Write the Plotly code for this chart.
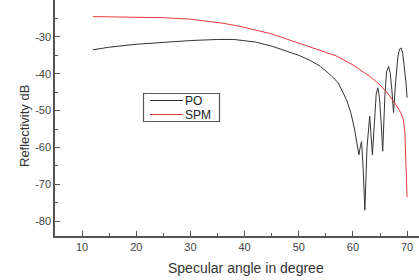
import plotly.graph_objects as go

# ---- data ----
angle_po = [12, 15, 20, 25, 30, 35, 38, 42, 45, 48, 50, 52, 54, 56, 57.3, 58.8,
            59.6, 60.3, 60.7, 61.1, 61.4, 61.6, 61.9, 62.2, 62.6, 63.1, 63.6,
            64.0, 64.3, 64.6, 64.9, 65.2, 65.5, 65.9, 66.2, 66.6, 66.9, 67.2, 67.5,
            67.9, 68.3, 68.6, 68.9, 69.2, 69.5, 69.8, 70.0]
po = [-33.5, -32.8, -32.0, -31.4, -31.0, -30.7, -30.7, -31.4, -32.5, -34.0, -35.0, -36.3,
      -38.0, -40.5, -42.5, -47.0, -50.5, -55.0, -58.6, -62.0, -59.5, -58.4, -66.0, -77.0,
      -60.0, -51.5, -62.0, -51.0, -45.5, -43.8, -46.5, -53.0, -61.0, -46.0, -39.5, -38.0,
      -40.0, -44.5, -50.5, -42.0, -35.5, -33.3, -33.0, -34.5, -38.0, -42.5, -46.5]

angle_spm = [12, 20, 25, 30, 33, 36, 39, 42, 45, 48, 51, 54, 57, 60, 63, 65, 66.5, 68,
             68.8, 69.3, 69.6, 69.8, 70.0]
spm = [-24.5, -24.6, -24.8, -25.2, -25.7, -26.3, -27.1, -28.1, -29.2, -30.7, -32.2,
       -33.6, -35.2, -37.6, -40.6, -43.0, -45.5, -48.5, -50.5, -52.4, -56.0, -65.0, -73.5]

series_names = ["PO", "SPM"]
series_colors = ["#333333", "#e83a3a"]

y_tickvals = [-30, -40, -50, -60, -70, -80]
y_ticktext = ["-30", "-40", "-50", "-60", "-70", "-80"]
x_tickvals = [10, 20, 30, 40, 50, 60, 70]

FONT = "Liberation Sans, Arial, sans-serif"
AXC = "#555555"

# plot area in pixels (for converting layout positions to paper coords)
L, R, T, B = 55, 419, 0, 236


def px(xp):
    return (xp - L) / (R - L)


def py(yp):
    return 1 - (yp - T) / (B - T)


fig = go.Figure()
for xs, ys, nm, col in [(angle_po, po, series_names[0], series_colors[0]),
                        (angle_spm, spm, series_names[1], series_colors[1])]:
    fig.add_trace(go.Scatter(x=xs, y=ys, mode="lines", name=nm,
                             line=dict(color=col, width=1), showlegend=False))

fig.update_layout(
    width=419, height=280,
    margin=dict(l=L, r=419 - R, t=T, b=280 - B),
    paper_bgcolor="white", plot_bgcolor="white",
    font=dict(family=FONT, color="#333333", size=11),
    showlegend=False,
)
fig.update_xaxes(range=[5, 72.2], showgrid=False, zeroline=False,
                 showline=True, linecolor=AXC, linewidth=1.5,
                 tickvals=x_tickvals, ticks="inside", ticklen=5, tickcolor=AXC,
                 tickfont=dict(size=11, color="#444444"),
                 minor=dict(tickvals=[15, 25, 35, 45, 55, 65], ticks="inside",
                            ticklen=3, tickcolor=AXC))
fig.update_yaxes(range=[-84, -20], showgrid=False, zeroline=False,
                 showline=True, linecolor=AXC, linewidth=1.5,
                 tickvals=y_tickvals, ticktext=y_ticktext,
                 ticks="inside", ticklen=5, tickcolor=AXC,
                 tickfont=dict(size=11, color="#444444"),
                 minor=dict(tickvals=[-25, -35, -45, -55, -65, -75], ticks="inside",
                            ticklen=3, tickcolor=AXC))

# ---- compact legend box: frame as a rect relative to the axis domain ----
fig.add_shape(type="rect", xref="x domain", yref="y domain",
              x0=px(143.5), x1=px(219.5), y0=py(121.5), y1=py(93.5),
              line=dict(color="#555555", width=1.2), fillcolor="white",
              layer="above")
for i, (nm, col) in enumerate(zip(series_names, series_colors)):
    yl = 100.5 + 14 * i
    fig.add_shape(type="line", xref="x domain", yref="y domain",
                  x0=px(150), x1=px(183), y0=py(yl), y1=py(yl),
                  line=dict(color=col, width=1), layer="above")
    fig.add_annotation(text=nm, xref="paper", yref="paper", x=px(184), y=py(yl + 0.5),
                       xanchor="left", yanchor="middle", showarrow=False,
                       borderpad=0,
                       font=dict(family=FONT, size=12, color="#222222"))

fig.add_annotation(text="Specular angle in degree", xref="paper", yref="paper",
                   x=px(246), y=py(268), xanchor="center", yanchor="middle",
                   showarrow=False, font=dict(family=FONT, size=14, color="#333333"))
fig.add_annotation(text="Reflectivity dB", xref="paper", yref="paper",
                   x=px(24), y=py(126), xanchor="center", yanchor="middle",
                   textangle=-90, showarrow=False,
                   font=dict(family=FONT, size=13, color="#333333"))

fig.write_html("out.html", config={"displayModeBar": False},
               post_script="document.body.style.margin='0';document.body.style.padding='0';")
